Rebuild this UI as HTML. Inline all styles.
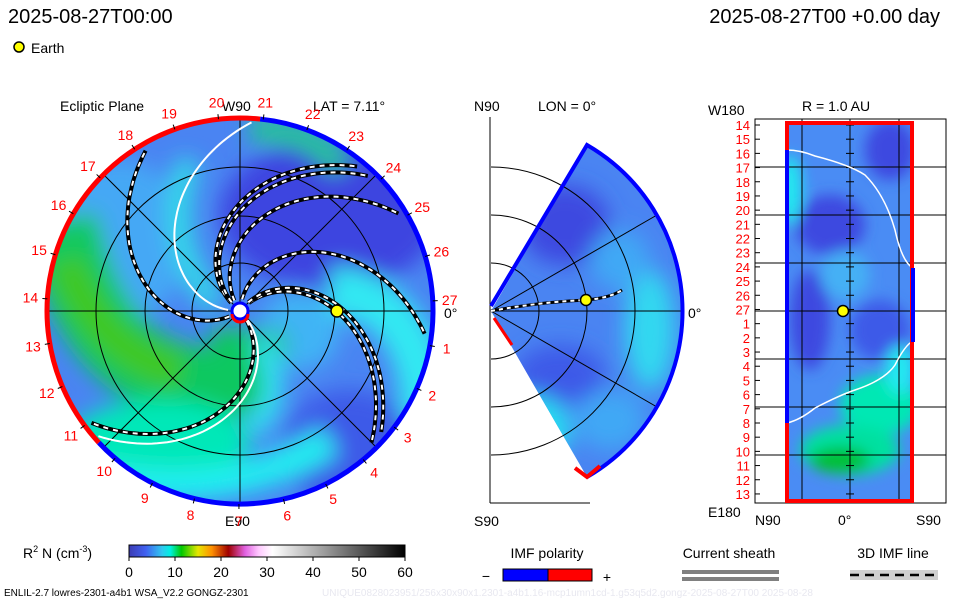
<!DOCTYPE html>
<html><head><meta charset="utf-8">
<style>
body{margin:0;background:#fff;}
svg{display:block;font-family:"Liberation Sans",sans-serif;}
</style></head>
<body>
<svg id="root" width="960" height="600" viewBox="0 0 960 600">
<defs>
<filter id="bl" x="-50%" y="-50%" width="200%" height="200%"><feGaussianBlur stdDeviation="11"/></filter>
<filter id="bl2" x="-50%" y="-50%" width="200%" height="200%"><feGaussianBlur stdDeviation="7"/></filter>
<clipPath id="diskClip"><circle cx="240" cy="311" r="193"/></clipPath>
<clipPath id="wedgeClip"><path d="M491,311 L587,145 A192,192 0 0,1 587,477 Z"/></clipPath>
<clipPath id="rectClip"><rect x="786" y="122" width="127" height="380"/></clipPath>
<linearGradient id="cbar" x1="0" x2="1" y1="0" y2="0">
<stop offset="0" stop-color="#3c3cb4"/><stop offset="0.06" stop-color="#4060f0"/>
<stop offset="0.12" stop-color="#30c8f0"/><stop offset="0.15" stop-color="#00f0e0"/>
<stop offset="0.19" stop-color="#00c800"/><stop offset="0.25" stop-color="#e6e600"/>
<stop offset="0.30" stop-color="#ff9000"/><stop offset="0.36" stop-color="#a00000"/>
<stop offset="0.42" stop-color="#e060e0"/><stop offset="0.47" stop-color="#ffc8ff"/>
<stop offset="0.52" stop-color="#ffffff"/><stop offset="0.7" stop-color="#a0a0a0"/>
<stop offset="1" stop-color="#000000"/>
</linearGradient>
</defs>

<text x="8" y="23" font-size="20">2025-08-27T00:00</text>
<text x="940" y="23" font-size="20" text-anchor="end">2025-08-27T00 +0.00 day</text>
<g>
<circle cx="19" cy="47" r="5" fill="#ffff00" stroke="#000" stroke-width="1.5"/>
<text x="31" y="53" font-size="14">Earth</text>
</g>

<text x="60" y="111" font-size="14">Ecliptic Plane</text>
<text x="313" y="111" font-size="14">LAT = 7.11°</text>
<text x="222" y="111" font-size="14">W90</text>
<text x="225" y="526" font-size="14">E90</text>
<text x="444" y="318" font-size="14">0°</text>

<g clip-path="url(#diskClip)">
<circle cx="240" cy="311" r="193" fill="#4a84f2"/>
<g filter="url(#bl)">
<ellipse cx="330" cy="215" rx="110" ry="75" fill="#3c44e0"/>
<ellipse cx="350" cy="450" rx="70" ry="60" fill="#3c5ae8"/>
<ellipse cx="120" cy="240" rx="70" ry="80" fill="#44a8f5"/>
<ellipse cx="300" cy="330" rx="40" ry="40" fill="#40b4f5"/>
<path d="M60,220 Q90,370 200,385 Q245,390 250,330" fill="none" stroke="#10c860" stroke-width="75"/>
<path d="M65,260 Q100,355 180,372" fill="none" stroke="#40c820" stroke-width="35"/>
<ellipse cx="160" cy="440" rx="90" ry="40" fill="#00e8b8"/>
<path d="M90,475 Q230,505 330,440" fill="none" stroke="#20eef0" stroke-width="32"/>
<path d="M330,290 Q425,300 425,420" fill="none" stroke="#30e8f2" stroke-width="48"/>
<path d="M190,160 Q160,240 215,305" fill="none" stroke="#30d8e8" stroke-width="24"/>
<path d="M250,130 Q320,130 340,170" fill="none" stroke="#20c890" stroke-width="24"/>
<path d="M260,340 Q290,400 250,430" fill="none" stroke="#30e0f0" stroke-width="22"/>
</g>
</g>
<g fill="none" stroke="#000" stroke-width="1">
<circle cx="240" cy="311" r="48"/><circle cx="240" cy="311" r="95"/><circle cx="240" cy="311" r="144"/>
<line x1="47" y1="311" x2="433" y2="311"/><line x1="240" y1="118" x2="240" y2="504"/>
<line x1="104" y1="175" x2="376" y2="447"/><line x1="104" y1="447" x2="376" y2="175"/>
</g>
<g id="spirals"></g>
<g id="rim"></g>
<circle cx="240" cy="311" r="8" fill="#fff" stroke="#0000ff" stroke-width="3"/>
<path d="M232,314 A8,8 0 0,0 248,314" fill="none" stroke="#f00" stroke-width="3"/>
<circle cx="337" cy="311" r="6" fill="#ffff00" stroke="#000" stroke-width="1.5"/>
<g id="dayLabels" font-size="14" fill="#ff0000"></g>

<text x="474" y="111" font-size="14">N90</text>
<text x="538" y="111" font-size="14">LON = 0°</text>
<text x="474" y="526" font-size="14">S90</text>
<text x="688" y="318" font-size="14">0°</text>
<g clip-path="url(#wedgeClip)">
<rect x="480" y="140" width="220" height="345" fill="#4a84f2"/>
<g filter="url(#bl)">
<ellipse cx="565" cy="225" rx="45" ry="40" fill="#3c48e0"/>
<ellipse cx="560" cy="375" rx="45" ry="30" fill="#3c5ae8"/>
<ellipse cx="650" cy="330" rx="25" ry="60" fill="#30d8f0"/>
<ellipse cx="530" cy="430" rx="40" ry="35" fill="#20e0f0"/>
<ellipse cx="620" cy="260" rx="30" ry="30" fill="#40a8f5"/>
<ellipse cx="610" cy="420" rx="35" ry="30" fill="#40a8f5"/>
</g>
</g>
<g fill="none" stroke="#000" stroke-width="1">
<line x1="490" y1="117" x2="490" y2="503"/><line x1="490" y1="503" x2="590" y2="503"/>
<path d="M491,263 A48,48 0 0,1 491,359"/><path d="M491,215 A96,96 0 0,1 491,407"/><path d="M491,167 A144,144 0 0,1 491,455"/>
<line x1="491" y1="311" x2="683" y2="311"/><line x1="491" y1="311" x2="657" y2="215"/><line x1="491" y1="311" x2="657" y2="407"/>
</g>
<path d="M491,306 L587,145 A192,192 0 0,1 587,477" fill="none" stroke="#0000ff" stroke-width="4"/>
<path d="M575,468 L587,477 L600,466" fill="none" stroke="#ff0000" stroke-width="4"/>
<path d="M494,318 L512,345" stroke="#ff0000" stroke-width="3"/>
<path d="M491,311 Q540,302 586,300 Q610,298 622,290" fill="none" stroke="#000" stroke-width="3"/>
<path d="M491,311 Q540,302 586,300 Q610,298 622,290" fill="none" stroke="#fff" stroke-width="2" stroke-dasharray="4 4"/>
<circle cx="586" cy="300" r="5.5" fill="#ffff00" stroke="#000" stroke-width="1.5"/>

<text x="802" y="111" font-size="14">R = 1.0 AU</text>
<text x="708" y="115" font-size="14">W180</text>
<text x="708" y="517" font-size="14">E180</text>
<text x="755" y="525" font-size="14">N90</text>
<text x="838" y="525" font-size="14">0°</text>
<text x="916" y="525" font-size="14">S90</text>
<rect x="755" y="119" width="191" height="384" fill="#fff" stroke="#000" stroke-width="1"/>
<g clip-path="url(#rectClip)">
<rect x="786" y="122" width="127" height="380" fill="#4a8cf4"/>
<g filter="url(#bl2)">
<ellipse cx="830" cy="225" rx="35" ry="30" fill="#3c48e0"/>
<ellipse cx="890" cy="150" rx="25" ry="30" fill="#3c48e0"/>
<ellipse cx="810" cy="320" rx="20" ry="50" fill="#3c48e0"/>
<ellipse cx="880" cy="330" rx="30" ry="30" fill="#3c5ae8"/>
<ellipse cx="845" cy="275" rx="25" ry="25" fill="#44b0f5"/>
<ellipse cx="790" cy="190" rx="12" ry="35" fill="#20e8f0"/>
<ellipse cx="880" cy="405" rx="40" ry="30" fill="#00e8b4"/>
<ellipse cx="850" cy="450" rx="50" ry="25" fill="#00e0a0"/>
<ellipse cx="840" cy="460" rx="30" ry="13" fill="#00c030"/>
<ellipse cx="900" cy="370" rx="15" ry="25" fill="#20e8f0"/>
</g>
</g>
<g fill="none" stroke="#000" stroke-width="1">
<line x1="755" y1="167" x2="946" y2="167"/><line x1="755" y1="215" x2="946" y2="215"/>
<line x1="755" y1="263" x2="946" y2="263"/><line x1="755" y1="311" x2="946" y2="311"/>
<line x1="755" y1="359" x2="946" y2="359"/><line x1="755" y1="407" x2="946" y2="407"/>
<line x1="755" y1="455" x2="946" y2="455"/>
<line x1="802" y1="119" x2="802" y2="503"/><line x1="850" y1="119" x2="850" y2="503"/><line x1="899" y1="119" x2="899" y2="503"/>
</g>
<g id="rTicks" stroke="#000" stroke-width="1"></g>
<path d="M787,150 Q800,150 815,156 Q850,165 865,175 Q885,195 895,230 Q902,262 913,268" fill="none" stroke="#fff" stroke-width="1.5"/>
<path d="M787,423 Q800,420 815,408 Q840,395 855,390 Q885,380 895,365 Q905,345 913,341" fill="none" stroke="#fff" stroke-width="1.5"/>
<rect x="787" y="123" width="125" height="378" fill="none" stroke="#ff0000" stroke-width="4"/>
<line x1="787" y1="150" x2="787" y2="423" stroke="#0000ff" stroke-width="4"/>
<line x1="913" y1="268" x2="913" y2="342" stroke="#0000ff" stroke-width="4"/>
<circle cx="843" cy="311" r="5.5" fill="#ffff00" stroke="#000" stroke-width="1.5"/>
<g id="rLabels" font-size="13" fill="#ff0000" text-anchor="end"></g>

<text x="23" y="558" font-size="14">R<tspan font-size="9" dy="-6">2</tspan><tspan dy="6"> N (cm</tspan><tspan font-size="9" dy="-6">-3</tspan><tspan dy="6">)</tspan></text>
<rect x="129" y="545" width="276" height="12" fill="url(#cbar)" stroke="#000" stroke-width="1"/>
<g id="cbTicks" font-size="14" text-anchor="middle"></g>

<text x="547" y="558" font-size="14" text-anchor="middle">IMF polarity</text>
<text x="486" y="581" font-size="14" text-anchor="middle">−</text>
<rect x="503" y="569" width="45" height="12" fill="#0000ff" stroke="#000"/>
<rect x="548" y="569" width="44" height="12" fill="#ff0000" stroke="#000"/>
<text x="607" y="582" font-size="14" text-anchor="middle">+</text>
<text x="729" y="558" font-size="14" text-anchor="middle">Current sheath</text>
<rect x="682" y="570" width="97" height="4" fill="#808080"/><rect x="682" y="577" width="97" height="4" fill="#808080"/>
<text x="893" y="558" font-size="14" text-anchor="middle">3D IMF line</text>
<rect x="850" y="570" width="88" height="10" fill="#d0d0d0"/>
<line x1="850" y1="575" x2="938" y2="575" stroke="#000" stroke-width="2.5" stroke-dasharray="9 6"/>
<text x="4" y="596" font-size="10">ENLIL-2.7 lowres-2301-a4b1 WSA_V2.2 GONGZ-2301</text>
<text x="322" y="596" font-size="10" fill="#e8e8f0">UNIQUE0828023951/256x30x90x1.2301-a4b1.16-mcp1umn1cd-1.g53q5d2.gongz-2025-08-27T00    2025-08-28</text>
</svg>
<script>
const dayNumbers=[1,2,3,4,5,6,7,8,9,10,11,12,13,14,15,16,17,18,19,20,21,22,23,24,25,26,27];
const cbTickValues=[0,10,20,30,40,50,60];
const rLabelDays=[14,15,16,17,18,19,20,21,22,23,24,25,26,27,1,2,3,4,5,6,7,8,9,10,11,12,13];
const spiralEndAngles=[50,45.6,30.6,-8,-46,-41.6,119.5,216];
const spiralSheathAngles=[87,222];
const NS='http://www.w3.org/2000/svg';
const cx=240,cy=311,R=193;
function mk(tag,attrs,parent){const e=document.createElementNS(NS,tag);for(const k in attrs)e.setAttribute(k,attrs[k]);parent.appendChild(e);return e;}
const dl=document.getElementById('dayLabels');
dayNumbers.forEach(d=>{
  const a=(3-(d%27)*13.33)*Math.PI/180;
  const x=cx+210*Math.cos(a), y=cy-210*Math.sin(a)+5;
  const t=mk('text',{x:x.toFixed(1),y:y.toFixed(1),'text-anchor':'middle'},dl);
  t.textContent=d;
  
  
  const tx1=cx+R*Math.cos(a),ty1=cy-R*Math.sin(a),tx2=cx+(R+5)*Math.cos(a),ty2=cy-(R+5)*Math.sin(a);
  mk('line',{x1:tx1,y1:ty1,x2:tx2,y2:ty2,stroke:'#000','stroke-width':1},dl);
});
const rim=document.getElementById('rim');
function arc(a1,a2,col){
  const p1=[cx+R*Math.cos(a1*Math.PI/180),cy-R*Math.sin(a1*Math.PI/180)];
  const p2=[cx+R*Math.cos(a2*Math.PI/180),cy-R*Math.sin(a2*Math.PI/180)];
  const large=Math.abs(a2-a1)>180?1:0;
  mk('path',{d:`M${p1[0]},${p1[1]} A${R},${R} 0 ${large},0 ${p2[0]},${p2[1]}`,fill:'none',stroke:col,'stroke-width':5},rim);
}
arc(84,223,'#ff0000');arc(223,444,'#0000ff');
const sp=document.getElementById('spirals');
function spiralPath(end,r0,r1){
  let d='';
  for(let r=r0;r<=r1;r+=3){const a=(end+0.5*(188-r))*Math.PI/180;d+=(d?'L':'M')+(cx+r*Math.cos(a)).toFixed(1)+','+(cy-r*Math.sin(a)).toFixed(1);}
  return d;
}
spiralEndAngles.forEach((e,i)=>{
  const d=spiralPath(e,12,188);
  const p1=mk('path',{d:d,fill:'none',stroke:'#000','stroke-width':4},sp);
  
  
  mk('path',{d:d,fill:'none',stroke:'#fff','stroke-width':2,'stroke-dasharray':'5 5'},sp);
});
spiralSheathAngles.forEach((e,i)=>{
  const p=mk('path',{d:spiralPath(e,12,190),fill:'none',stroke:'#fff','stroke-width':2},sp);
  
  
});
const cb=document.getElementById('cbTicks');
cbTickValues.forEach(v=>{
  const x=129+v/60*276;
  mk('line',{x1:x,y1:557,x2:x,y2:561,stroke:'#000'},cb);
  const t=mk('text',{x:x,y:577},cb);t.textContent=v;
  
  
});
const rl=document.getElementById('rLabels');
rLabelDays.forEach((d,i)=>{
  const y=125+i*14.19;
  const t=mk('text',{x:750,y:(y+5).toFixed(1)},rl);t.textContent=d;
  
  
  mk('line',{x1:755,y1:y,x2:760,y2:y,stroke:'#000'},rl);
  mk('line',{x1:846,y1:y,x2:854,y2:y,stroke:'#000'},document.getElementById('rTicks'));
});
</script>
</body></html>
